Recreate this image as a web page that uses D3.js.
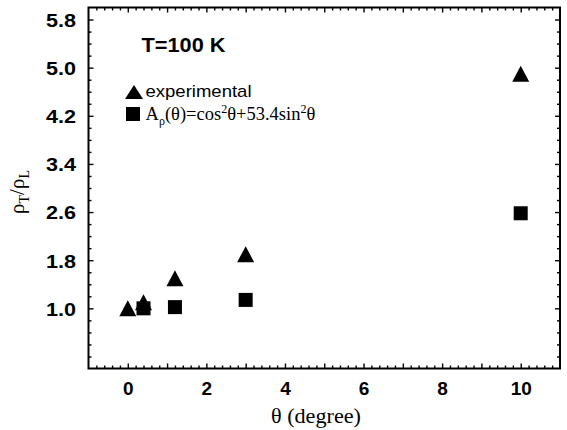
<!DOCTYPE html>
<html>
<head>
<meta charset="utf-8">
<script src="https://cdn.jsdelivr.net/npm/d3@7"></script>
<style>
  html, body { margin: 0; padding: 0; background: #fff; }
  svg { display: block; }
</style>
</head>
<body>
<svg id="chart" width="567" height="430"></svg>
<script>
// Measured transverse / longitudinal resistivity ratio vs. field tilt angle
const thetaExp = [0, 0.4, 1.2, 3, 10];
const ratioExp = [1.0, 1.1, 1.5, 1.9, 4.9];
// Anisotropy model A_rho(theta) = cos^2(theta) + 53.4 sin^2(theta)
const thetaCalc = [0.4, 1.2, 3, 10];
const ratioCalc = [1.0, 1.02, 1.14, 2.58];

const xTickLabels = [0, 2, 4, 6, 8, 10];
const yTickLabels = [1.0, 1.8, 2.6, 3.4, 4.2, 5.0, 5.8];

const svg = d3.select("#chart");
const L = 88.5, R = 560, T = 7.5, B = 368.5;

const x = d3.scaleLinear().domain([-1, 11]).range([L, R]);
const y = d3.scaleLinear().domain([0, 6]).range([B, T]);

const sans = "'Liberation Sans', Arial, Helvetica, sans-serif";
const serif = "'Liberation Serif', 'Times New Roman', serif";

// tick positions
const xMinor = d3.range(-0.8, 10.81, 0.2).map(v => +v.toFixed(1)).filter(v => Math.abs(v - Math.round(v)) > 1e-6);
const xMajor = d3.range(0, 11, 1);
const yMinor = d3.range(0.2, 5.99, 0.2).map(v => +v.toFixed(1)).filter(v => !yTickLabels.some(t => Math.abs(t - v) < 1e-6));
const yMajor = yTickLabels;

function tickLayer(axisFn, scale, values, size, transform) {
  const g = svg.append("g").attr("transform", transform)
    .call(axisFn(scale).tickValues(values).tickSize(size).tickFormat(""));
  g.select(".domain").remove();
  g.selectAll("line").attr("stroke", "#000").attr("stroke-width", 1.4);
  return g;
}

// inward ticks on all four sides
tickLayer(d3.axisBottom, x, xMinor, -3, `translate(0,${B})`);
tickLayer(d3.axisBottom, x, xMajor, -5, `translate(0,${B})`);
tickLayer(d3.axisTop, x, xMinor, -3, `translate(0,${T})`);
tickLayer(d3.axisTop, x, xMajor, -5, `translate(0,${T})`);
tickLayer(d3.axisLeft, y, yMinor, -3, `translate(${L},0)`);
tickLayer(d3.axisLeft, y, yMajor, -5, `translate(${L},0)`);
tickLayer(d3.axisRight, y, yMinor, -3, `translate(${R},0)`);
tickLayer(d3.axisRight, y, yMajor, -5, `translate(${R},0)`);

// frame
svg.append("rect")
  .attr("x", L).attr("y", T).attr("width", R - L).attr("height", B - T)
  .attr("fill", "none").attr("stroke", "#000").attr("stroke-width", 2);

// x tick labels
const gx = svg.append("g").attr("transform", `translate(0,${B})`)
  .call(d3.axisBottom(x).tickValues(xTickLabels).tickSize(0).tickPadding(0).tickFormat(d3.format("d")));
gx.select(".domain").remove();
gx.selectAll("text")
  .attr("y", 26).attr("dy", null)
  .attr("font-family", sans).attr("font-weight", "bold").attr("font-size", 19).attr("fill", "#000");

// y tick labels
const gy = svg.append("g").attr("transform", `translate(${L},0)`)
  .call(d3.axisLeft(y).tickValues(yTickLabels).tickSize(0).tickPadding(12.5).tickFormat(d3.format(".1f")));
gy.select(".domain").remove();
gy.selectAll("text")
  .attr("dy", "0.38em")
  .attr("font-family", sans).attr("font-weight", "bold").attr("font-size", 18).attr("fill", "#000")
  .attr("textLength", 30).attr("lengthAdjust", "spacingAndGlyphs");

// markers
const triW = 17, triH = 16, sq = 14;
const triPath = (w, h) => `M0,${-h / 2}L${w / 2},${h / 2}L${-w / 2},${h / 2}Z`;

svg.append("g").selectAll("rect")
  .data(thetaCalc.map((t, i) => [t, ratioCalc[i]]))
  .join("rect")
  .attr("x", d => x(d[0]) - sq / 2).attr("y", d => y(d[1]) - sq / 2)
  .attr("width", sq).attr("height", sq).attr("fill", "#000");

svg.append("g").selectAll("path")
  .data(thetaExp.map((t, i) => [t, ratioExp[i]]))
  .join("path")
  .attr("transform", d => `translate(${x(d[0])},${y(d[1])})`)
  .attr("d", triPath(triW, triH)).attr("fill", "#000");

// annotation and legend
svg.append("text")
  .attr("x", 141.5).attr("y", 51.5)
  .attr("font-family", sans).attr("font-weight", "bold").attr("font-size", 20)
  .attr("textLength", 84).attr("lengthAdjust", "spacingAndGlyphs")
  .text("T=100 K");

svg.append("path")
  .attr("transform", "translate(134,92)")
  .attr("d", triPath(18, 14)).attr("fill", "#000");
svg.append("text")
  .attr("x", 145.5).attr("y", 96.5)
  .attr("font-family", sans).attr("font-size", 17)
  .attr("textLength", 106).attr("lengthAdjust", "spacingAndGlyphs")
  .text("experimental");

svg.append("rect")
  .attr("x", 126).attr("y", 107).attr("width", 14).attr("height", 14).attr("fill", "#000");
const f = svg.append("text")
  .attr("x", 145.5).attr("y", 120)
  .attr("font-family", serif).attr("font-size", 18.5);
f.append("tspan").text("A");
f.append("tspan").attr("font-size", 12).attr("dy", 5).text("ρ");
f.append("tspan").attr("dy", -5).text("(θ)=cos");
f.append("tspan").attr("font-size", 12).attr("dy", -7).text("2");
f.append("tspan").attr("dy", 7).text("θ+53.4sin");
f.append("tspan").attr("font-size", 12).attr("dy", -7).text("2");
f.append("tspan").attr("dy", 7).text("θ");

// axis titles
svg.append("text")
  .attr("x", 316).attr("y", 422.5).attr("text-anchor", "middle")
  .attr("font-family", serif).attr("font-size", 20)
  .attr("textLength", 90).attr("lengthAdjust", "spacingAndGlyphs")
  .text("θ (degree)");

const yt = svg.append("text")
  .attr("transform", "translate(24,192) rotate(-90)")
  .attr("text-anchor", "middle")
  .attr("font-family", serif).attr("font-size", 21);
yt.append("tspan").text("ρ");
yt.append("tspan").attr("font-size", 14).attr("dy", 5).text("T");
yt.append("tspan").attr("dy", -5).text("/ρ");
yt.append("tspan").attr("font-size", 14).attr("dy", 5).text("L");
</script>
</body>
</html>
